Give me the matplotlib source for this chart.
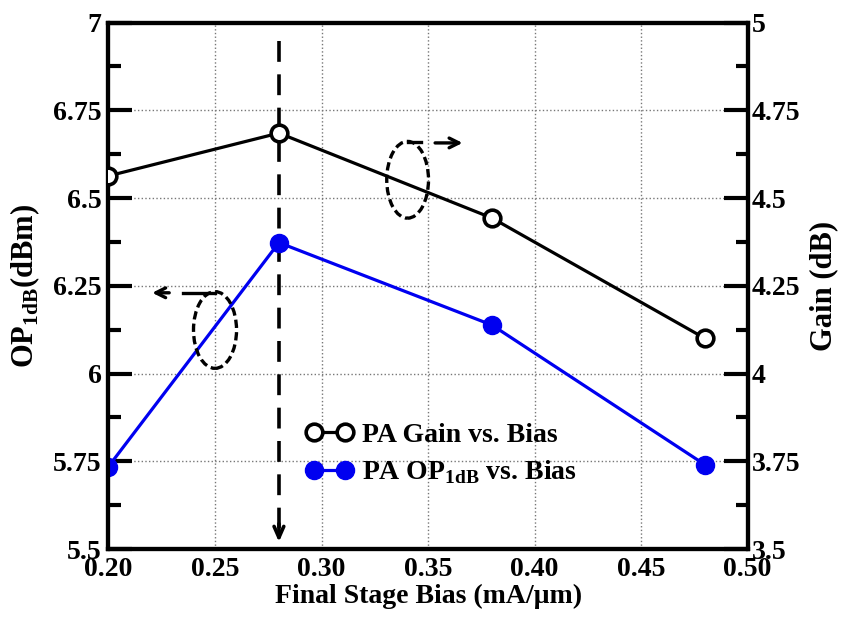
import matplotlib
matplotlib.use("Agg")
import matplotlib.pyplot as plt
from matplotlib.patches import Ellipse
from matplotlib.ticker import MultipleLocator

plt.rcParams["font.family"] = "Liberation Serif"
plt.rcParams["font.weight"] = "bold"
plt.rcParams["mathtext.fontset"] = "custom"
plt.rcParams["mathtext.rm"] = "Liberation Serif:bold"
plt.rcParams["mathtext.bf"] = "Liberation Serif:bold"
plt.rcParams["lines.scale_dashes"] = False

# data
bias = [0.20, 0.28, 0.38, 0.48]
gain_db = [4.563, 4.685, 4.443, 4.10]
op1db_dbm = [5.735, 6.373, 6.138, 5.74]
x_ticks = [0.20, 0.25, 0.30, 0.35, 0.40, 0.45, 0.50]
x_tick_labels = ["0.20", "0.25", "0.30", "0.35", "0.40", "0.45", "0.50"]
op_ticks = [5.5, 5.75, 6, 6.25, 6.5, 6.75, 7]
op_tick_labels = ["5.5", "5.75", "6", "6.25", "6.5", "6.75", "7"]
gain_ticks = [3.5, 3.75, 4, 4.25, 4.5, 4.75, 5]
gain_tick_labels = ["3.5", "3.75", "4", "4.25", "4.5", "4.75", "5"]

fig = plt.figure(figsize=(8.41, 6.26), dpi=100)
ax = fig.add_axes([0.129, 0.123, 0.760, 0.841])
ax2 = ax.twinx()

blue = "#0000f0"

(l_op,) = ax.plot(bias, op1db_dbm, color=blue, lw=2.3, marker="o", ms=13,
                  mfc=blue, mec=blue, zorder=4)
(l_gain,) = ax2.plot(bias, gain_db, color="black", lw=2.3, marker="o", ms=12,
                     mfc="white", mec="black", mew=2.6, zorder=4)

ax.set_xlim(0.20, 0.50)
ax.set_ylim(5.5, 7)
ax2.set_ylim(3.5, 5)

ax.set_xticks(x_ticks)
ax.set_xticklabels(x_tick_labels)
ax.set_yticks(op_ticks)
ax.set_yticklabels(op_tick_labels)
ax2.set_yticks(gain_ticks)
ax2.set_yticklabels(gain_tick_labels)
ax.yaxis.set_minor_locator(MultipleLocator(0.125))
ax2.yaxis.set_minor_locator(MultipleLocator(0.125))

ax.grid(True, which="major", linestyle=":", color="#777777", lw=1.0)
ax.set_axisbelow(True)

ax.tick_params(axis="x", length=0, pad=6, labelsize=20)
for a in (ax, ax2):
    a.tick_params(axis="y", which="major", direction="in", length=17, width=3, labelsize=20)
    a.tick_params(axis="y", which="minor", direction="in", length=9, width=3)
    for s in a.spines.values():
        s.set_linewidth(3)
ax.tick_params(axis="y", pad=5)
ax2.tick_params(axis="y", pad=3)

ax.set_xlabel("Final Stage Bias (mA/\u03bcm)", fontsize=20, fontweight="bold", labelpad=1)
ax.set_ylabel("OP$_{\\mathbf{1dB}}$(dBm)", fontsize=22, fontweight="bold")
ax2.set_ylabel("Gain (dB)", fontsize=22, fontweight="bold")
ax.yaxis.set_label_coords(-0.104, 0.5)
ax2.yaxis.set_label_coords(1.097, 0.5)

# dashed marker line at 0.28 with arrow head at the bottom
ax.plot([0.28, 0.28], [6.947, 5.56], color="black", lw=2.6, dashes=(15, 9), zorder=3)
ax.annotate("", xy=(0.28, 5.512), xytext=(0.28, 5.58),
            arrowprops=dict(arrowstyle="->,head_length=0.8,head_width=0.35", lw=2.6, color="black"))

# ellipse for gain curve -> right axis
ax.add_patch(Ellipse((0.3404, 6.552), 0.0196, 0.2186, fill=False, ec="black",
                     lw=2.4, ls=(0, (6, 3)), zorder=5))
ax.plot([0.3405, 0.3465], [6.659, 6.659], color="black", lw=2.4, zorder=5)
ax.annotate("", xy=(0.3675, 6.657), xytext=(0.352, 6.657),
            arrowprops=dict(arrowstyle="->,head_length=0.7,head_width=0.35", lw=2.4, color="black"))

# ellipse for OP1dB curve -> left axis
ax.add_patch(Ellipse((0.25, 6.124), 0.0202, 0.2186, fill=False, ec="black",
                     lw=2.4, ls=(0, (6, 3)), zorder=5))
ax.plot([0.2349, 0.25], [6.23, 6.23], color="black", lw=2.4, zorder=5)
ax.annotate("", xy=(0.2192, 6.23), xytext=(0.2298, 6.23),
            arrowprops=dict(arrowstyle="->,head_length=0.7,head_width=0.35", lw=2.4, color="black"))

leg = ax.legend([l_gain, l_op], ["PA Gain vs. Bias", "PA OP$_{\\mathbf{1dB}}$ vs. Bias"],
                loc="upper left", bbox_to_anchor=(0.27, 0.288), frameon=False,
                numpoints=2, handlelength=1.7, handletextpad=0.3, labelspacing=0.38,
                prop={"family": "Liberation Serif", "weight": "bold", "size": 20})
leg.set_zorder(6)

fig.savefig("out.png", dpi=100)
